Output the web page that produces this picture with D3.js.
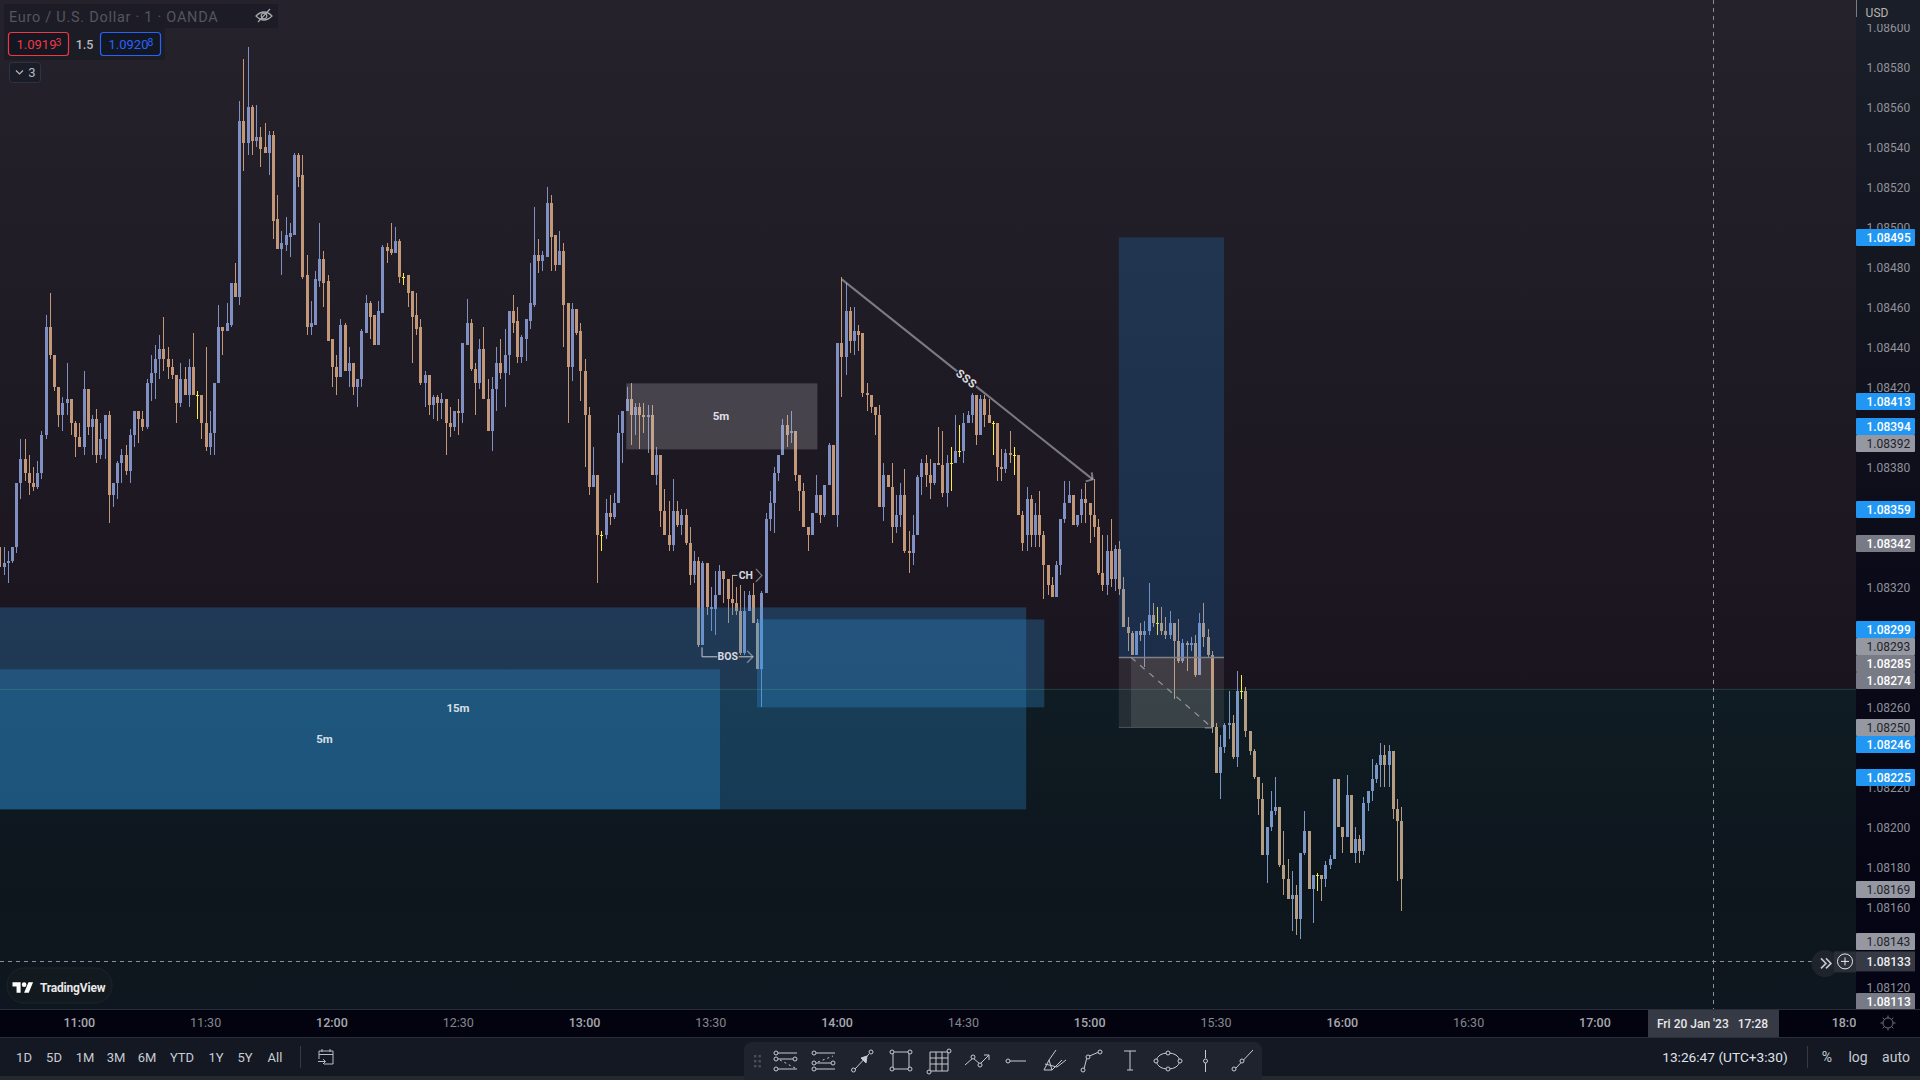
<!DOCTYPE html>
<html><head><meta charset="utf-8">
<script src="https://cdnjs.cloudflare.com/ajax/libs/d3/7.8.5/d3.min.js"></script>
<style>html,body{margin:0;padding:0;background:#000;overflow:hidden}svg{display:block}text{font-family:Roboto,"Liberation Sans",sans-serif}</style>
</head><body><svg id="c" width="1920" height="1080"></svg>
<script>
// Candle values: 5th-decimal points above 1.08000, one-minute bars from 10:41
const firstMinute = 641;
const opens = [
340,330,332,333,340,372,384,377,372,370,377,396,450,436,420,406,412,414,402,395,
390,419,400,404,386,394,406,366,372,382,386,378,396,408,404,400,422,427,434,439,
434,430,426,412,424,416,430,416,416,402,390,397,422,450,448,451,472,465,553,542,
560,543,545,540,537,546,504,489,491,495,496,536,526,476,450,451,473,484,473,444,
430,425,451,428,432,420,424,447,462,456,441,457,490,489,487,493,475,476,468,456,
450,422,426,411,415,412,414,402,400,408,407,441,452,429,422,439,414,398,419,432,
427,436,458,453,435,444,453,461,486,483,485,512,496,481,488,462,430,459,448,428,
406,370,376,346,346,357,355,362,397,408,414,406,410,406,405,406,376,386,358,346,
341,358,351,356,342,326,333,291,332,309,309,316,328,324,314,312,308,287,308,316,
302,279,317,354,362,377,386,401,397,398,376,368,350,346,357,366,356,371,391,356,
442,435,458,443,448,447,417,416,410,406,360,376,370,350,356,366,338,337,346,375,
382,376,372,382,381,367,382,382,388,388,402,406,416,396,414,406,402,402,380,379,
387,386,386,356,346,364,346,356,346,331,321,315,331,354,362,366,351,356,364,362,
356,350,327,321,338,324,339,319,300,297,286,298,296,298,306,302,302,298,296,302,
293,283,292,291,292,276,302,295,286,250,227,240,251,252,235,268,268,248,238,225,
214,186,200,208,210,181,174,164,166,154,187,198,169,176,176,174,181,184,224,200,
195,216,187,194,188,212,218,224,231,236,231,238,209,203];
const closes = [
330,332,333,340,372,384,377,372,370,377,396,450,436,420,406,412,414,402,395,390,
419,400,404,386,394,406,366,372,382,386,378,396,408,404,400,422,427,434,439,434,
430,426,412,424,416,430,416,416,402,390,397,422,450,448,452,472,465,553,542,560,
543,545,539,537,546,503,489,492,496,497,536,525,475,450,452,474,484,472,443,430,
425,451,428,432,420,424,448,462,455,441,458,490,488,487,493,475,475,467,455,449,
422,426,411,415,412,414,402,400,408,407,442,452,429,422,439,414,398,419,432,427,
436,458,452,435,445,454,462,486,483,486,512,495,481,488,461,430,459,447,428,406,
370,376,346,346,357,355,362,397,408,414,406,410,406,405,406,376,386,358,346,341,
358,351,356,342,326,333,291,332,310,310,316,328,324,314,312,308,287,308,316,302,
279,317,354,362,377,386,401,396,398,376,368,350,346,357,366,356,371,391,356,442,
435,458,443,448,446,417,416,410,406,360,376,370,350,356,366,338,337,346,375,382,
376,372,382,381,367,382,382,388,388,402,406,416,396,414,406,402,402,380,379,387,
386,386,356,342,364,346,356,346,331,321,315,331,354,362,366,351,356,364,362,356,
350,327,321,338,324,339,319,300,297,286,298,296,298,306,302,302,298,296,302,293,
283,292,291,292,276,302,295,286,250,227,240,251,252,235,268,268,248,238,225,214,
186,200,208,210,181,174,164,166,154,187,198,169,176,176,174,181,184,224,200,195,
216,187,194,188,212,218,224,231,236,231,238,209,203,174];
const highs = [
340,340,338,340,372,394,394,386,380,383,398,456,467,436,420,415,432,414,403,402,
428,419,406,409,402,406,408,372,383,389,391,399,408,408,408,424,436,441,446,455,
440,434,426,432,430,434,447,418,416,440,408,422,461,450,462,472,482,563,584,590,
561,561,550,552,548,548,516,498,505,502,537,537,536,486,463,478,502,488,476,444,
436,454,452,440,432,424,449,466,463,456,463,491,492,502,500,494,477,476,468,467,
454,428,426,416,416,417,414,410,408,414,442,464,454,432,444,450,424,425,440,444,
449,458,466,460,446,454,482,510,494,488,520,516,496,498,492,462,462,459,452,434,
410,390,376,348,364,366,367,406,408,420,422,412,412,412,411,411,390,386,369,363,
374,363,359,359,350,338,335,333,332,320,328,331,328,324,326,320,321,318,318,322,
304,318,357,368,380,386,404,406,408,398,376,372,350,357,376,366,371,392,391,442,
475,472,460,460,451,447,422,416,410,411,382,376,382,366,372,379,348,356,376,384,
386,384,382,400,398,386,390,406,401,407,408,417,416,416,416,414,403,402,389,389,
398,390,386,358,370,366,362,368,348,331,325,333,354,373,373,366,356,369,372,362,
374,354,346,346,354,341,343,325,305,298,298,302,303,322,312,310,310,305,308,302,
304,294,293,295,296,307,312,299,288,252,246,252,268,256,278,276,270,248,239,225,
222,200,218,225,210,198,184,178,171,187,208,198,176,177,176,183,186,224,224,200,
226,216,200,196,215,218,234,232,242,241,241,238,214,210];
const lows = [
330,326,322,332,337,364,373,366,368,369,374,394,434,418,400,398,406,396,385,390,
386,396,386,382,384,384,352,360,364,372,376,372,390,392,398,399,413,414,424,428,
424,424,402,410,416,410,416,404,394,388,386,386,422,436,448,450,465,461,528,536,
536,540,530,537,526,494,489,476,488,485,496,520,474,446,446,451,470,460,443,420,
416,425,428,420,416,410,420,447,444,441,441,457,482,486,487,472,471,460,432,446,
421,410,406,404,403,404,386,395,398,396,402,441,428,406,419,414,398,388,408,424,
410,426,447,432,432,433,449,460,477,478,485,478,478,481,440,402,423,446,413,380,
366,370,322,338,344,351,354,362,382,408,391,396,389,397,387,376,371,350,346,338,
338,350,346,341,321,322,290,291,306,298,296,316,312,302,306,306,286,286,308,302,
279,260,317,348,347,373,386,390,392,373,358,350,338,346,357,352,355,371,356,350,
415,426,437,436,438,415,408,407,396,360,353,370,342,347,350,337,327,331,346,366,
370,364,371,381,365,360,368,382,385,382,402,402,391,396,400,402,386,373,373,377,
382,376,356,338,338,340,340,340,314,316,315,315,326,352,362,351,350,352,352,342,
345,326,318,316,320,318,316,300,288,286,286,293,280,296,300,296,296,294,294,264,
282,282,278,288,275,276,290,285,247,227,214,237,244,234,230,264,245,236,224,206,
186,172,198,206,180,166,164,148,146,144,186,169,152,168,163,170,179,184,200,187,
195,187,182,182,186,208,213,222,220,220,220,204,173,158];

// Axis ticks
const priceTicks = [1.086,1.0858,1.0856,1.0854,1.0852,1.085,1.0848,1.0846,1.0844,1.0842,1.0838,1.0832,1.0826,1.0822,1.082,1.0818,1.0816,1.0812];
const timeTicks = [660,690,720,750,780,810,840,870,900,930,960,990,1020,1080];
const timeTickLabels = ["11:00","11:30","12:00","12:30","13:00","13:30","14:00","14:30","15:00","15:30","16:00","16:30","17:00","18:00"];
const rangeButtons = ["1D","5D","1M","3M","6M","YTD","1Y","5Y","All"];

// Price labels on the right scale
const blueLabels = [1.08495,1.08413,1.08394,1.08359,1.08299,1.08246,1.08225];
const lightLabels = [1.08392,1.08293,1.0825,1.08169,1.08143];
const darkLabels = [1.08342,1.08285,1.08274,1.08113];
const crossPrice = 1.08133, crossMinute = 1048;
const baselinePrice = 1.08269;

// Drawings
const zones = [
  {t0:622,t1:884.8,hi:1.0831,lo:1.08209},
  {t0:820.85,t1:889.1,hi:1.08304,lo:1.0826},
  {t0:622,t1:812.07,hi:1.08279,lo:1.08209}];
const greyBox = {t0:789.8,t1:835.2,hi:1.08422,lo:1.08389};
const pos = {t0:906.8,t1:931.8,top:1.08495,mid:1.08285,bot:1.0825,inner0:909.7,inner1:928.9};
const trend = {t0:841,p0:1.08474,t1:900.6,p1:1.08374};

const W=1920,H=1080,chartR=1856,chartB=1009;
const svg=d3.select('#c');
const defs=svg.append('defs');
function grad(id,stops){const g=defs.append('linearGradient').attr('id',id).attr('gradientUnits','userSpaceOnUse').attr('x1',0).attr('x2',0).attr('y1',0).attr('y2',1080);
  stops.forEach(s=>g.append('stop').attr('offset',s[0]/1080).attr('stop-color',s[1]));}
grad('bgTop',[[0,'#25222c'],[400,'#1e1a24'],[690,'#1a141e']]);
grad('bgBot',[[690,'#0c0810'],[900,'#08010a'],[1009,'#0a030c']]);
grad('axisBg',[[0,'#1a1f29'],[300,'#13151f'],[600,'#0a0a18'],[1009,'#030313']]);
defs.append('clipPath').attr('id','chartClip').append('rect').attr('width',chartR).attr('height',chartB);

const x=d3.scaleLinear().domain([660,690]).range([79.8,206.1]);
const y=d3.scaleLinear().domain([1.086,1.081]).range([27.4,1027.4]);
const pr=v=>1.08+v/1e5;
const candles=opens.map((o,i)=>({t:firstMinute+i,o:pr(o),c:pr(closes[i]),h:pr(highs[i]),l:pr(lows[i])}));
const baseY=y(baselinePrice);

// Background
svg.append('rect').attr('width',chartR).attr('height',baseY).attr('fill','url(#bgTop)');
svg.append('rect').attr('y',baseY).attr('width',chartR).attr('height',chartB-baseY).attr('fill','url(#bgBot)');

const chart=svg.append('g').attr('clip-path','url(#chartClip)');
// Candles
const up='#8090c3',down='#c29878',flat='#ffeb3b';
const col=d=>d.c>d.o?up:(d.c<d.o?down:flat);
const px=d=>Math.floor(x(d.t));
const cg=chart.append('g').attr('shape-rendering','crispEdges');
cg.selectAll('.w').data(candles).join('rect').attr('class','w').attr('x',px).attr('width',1)
  .attr('y',d=>Math.round(y(d.h))).attr('height',d=>Math.max(1,Math.round(y(d.l))-Math.round(y(d.h)))).attr('fill',col);
cg.selectAll('.b').data(candles).join('rect').attr('class','b').attr('x',d=>px(d)-1).attr('width',3)
  .attr('y',d=>Math.round(y(Math.max(d.o,d.c)))).attr('height',d=>Math.max(1,Math.round(y(Math.min(d.o,d.c)))-Math.round(y(Math.max(d.o,d.c))))).attr('fill',col);
// Tint on the lower part
chart.append('rect').attr('y',baseY).attr('width',chartR).attr('height',chartB-baseY).attr('fill','rgb(60,210,205)').attr('opacity',.1);

// Blue zones
chart.selectAll('.z').data(zones).join('rect').attr('class','z').attr('x',d=>Math.max(0,x(d.t0))).attr('width',d=>x(d.t1)-Math.max(0,x(d.t0)))
  .attr('y',d=>y(d.hi)).attr('height',d=>y(d.lo)-y(d.hi)).attr('fill','rgb(45,150,225)').attr('opacity',.28);
chart.append('rect').attr('x',x(greyBox.t0)).attr('width',x(greyBox.t1)-x(greyBox.t0)).attr('y',y(greyBox.hi)).attr('height',y(greyBox.lo)-y(greyBox.hi)).attr('fill','rgb(200,200,205)').attr('opacity',.24);
// Position tool
chart.append('rect').attr('x',x(pos.t0)).attr('width',x(pos.t1)-x(pos.t0)).attr('y',y(pos.top)).attr('height',y(pos.mid)-y(pos.top)).attr('fill','rgb(33,150,243)').attr('opacity',.2);
chart.append('rect').attr('x',x(pos.t0)).attr('width',x(pos.t1)-x(pos.t0)).attr('y',y(pos.mid)).attr('height',y(pos.bot)-y(pos.mid)).attr('fill','rgb(180,180,180)').attr('opacity',.13);
chart.append('rect').attr('x',x(pos.inner0)).attr('width',x(pos.inner1)-x(pos.inner0)).attr('y',y(pos.mid)).attr('height',y(pos.bot)-y(pos.mid)).attr('fill','rgb(180,180,180)').attr('opacity',.15);
chart.append('line').attr('x1',x(pos.t0)).attr('x2',x(pos.t1)).attr('y1',y(pos.mid)).attr('y2',y(pos.mid)).attr('stroke','rgb(130,128,135)').attr('stroke-width',1.5);
chart.append('line').attr('x1',x(pos.inner0)).attr('x2',x(pos.inner1)).attr('y1',y(pos.mid)).attr('y2',y(pos.bot)).attr('stroke','rgb(150,150,155)').attr('stroke-width',1.2).attr('stroke-dasharray','6 6');
chart.append('line').attr('x1',x(pos.t0)).attr('x2',x(pos.inner1)).attr('y1',y(pos.bot)).attr('y2',y(pos.bot)).attr('stroke','rgb(80,84,88)').attr('stroke-width',1);

// Baseline
chart.append('line').attr('x1',0).attr('x2',chartR).attr('y1',baseY).attr('y2',baseY).attr('stroke','rgba(110,180,165,.26)');

// Trend line with gap for its label
const grey='rgba(200,200,205,.55)';
function seg(p,w,c,dash){const l=chart.append('path').attr('d',d3.line()(p)).attr('fill','none').attr('stroke',c||grey).attr('stroke-width',w||1.3);if(dash)l.attr('stroke-dasharray',dash);return l;}
const ta=[x(trend.t0),y(trend.p0)],tb=[x(trend.t1),y(trend.p1)];
const along=f=>[ta[0]+(tb[0]-ta[0])*f,ta[1]+(tb[1]-ta[1])*f];
seg([ta,along(.46)],2);seg([along(.535),tb],2);
seg([[tb[0]-1,tb[1]-7],tb,[tb[0]-7,tb[1]+2]],2);
const ang=Math.atan2(tb[1]-ta[1],tb[0]-ta[0])*180/Math.PI,mid=along(.497);
function lab(s,xx,yy,size,weight,fill,anchor){return svg.append('text').attr('x',xx).attr('y',yy).attr('font-size',size).attr('font-weight',weight||400).attr('fill',fill).attr('text-anchor',anchor||'middle').attr('dominant-baseline','central').text(s);}
lab('SSS',mid[0],mid[1],11.5,700,'#dcdcdf').attr('letter-spacing',.6).attr('transform',`rotate(${ang} ${mid[0]} ${mid[1]})`);
// dashed end arrow of position
seg([[x(pos.inner1)-7,y(pos.bot)+.5],[x(pos.inner1),y(pos.bot)+.5],[x(pos.inner1),y(pos.bot)-6]],1.3,'rgba(170,170,175,.7)');
// BOS / CH
const bosP=1.082853,chP=1.08326;
seg([[x(807.8),y(1.0829)],[x(807.8),y(bosP)],[x(811.4),y(bosP)]],1,'#c8c8cc');
seg([[x(816.5),y(bosP)],[x(819.9),y(bosP)]],1,'#c8c8cc');
seg([[x(818.5),y(bosP)-6],[x(819.9),y(bosP)],[x(818.5),y(bosP)+6]],1.4,grey);
seg([[x(815),y(chP)],[x(816.2),y(chP)]],1,'#c8c8cc');
seg([[x(820.6),y(chP)-6.5],[x(822),y(chP)],[x(820.6),y(chP)+6.5]],1.4,grey);
lab('BOS',x(813.9),y(bosP),10.5,700,'#d8d8dc');
lab('CH',x(818.2),y(chP),10.5,700,'#d8d8dc');
lab('5m',721,415.7,11.5,700,'#dfdfe3');
lab('15m',458,708,11.5,700,'#d8e0e6');
lab('5m',324.5,739,11.5,700,'#d8e0e6');

// Crosshair
const crossC='#8e9098';
svg.append('line').attr('x1',x(crossMinute)).attr('x2',x(crossMinute)).attr('y1',0).attr('y2',chartB).attr('stroke',crossC).attr('stroke-dasharray','4 4').attr('shape-rendering','crispEdges');
svg.append('line').attr('x1',0).attr('x2',1812).attr('y1',y(crossPrice)).attr('y2',y(crossPrice)).attr('stroke',crossC).attr('stroke-dasharray','4 4').attr('shape-rendering','crispEdges');

// Header
svg.append('rect').attr('x',4).attr('y',4).attr('width',274).attr('height',24).attr('fill','rgba(20,22,30,.45)');
svg.append('rect').attr('x',4).attr('y',28).attr('width',161).attr('height',32).attr('fill','rgba(20,22,30,.45)');
svg.append('text').attr('x',9).attr('y',17).attr('font-size',14.5).attr('fill','#55555e').attr('dominant-baseline','central').attr('letter-spacing',.72).text('Euro / U.S. Dollar · 1 · OANDA');
const eye=svg.append('g').attr('transform','translate(264,16)').attr('fill','none').attr('stroke','#a6a8ad').attr('stroke-width',1.2);
eye.append('path').attr('d','M-8,0 Q0,-8 8,0 Q0,8 -8,0Z');eye.append('circle').attr('r',2.8);eye.append('path').attr('d','M-6,6 L6,-7');
function quote(xx,c,main,sup){svg.append('rect').attr('x',xx+.5).attr('y',32.5).attr('width',60).attr('height',23).attr('rx',3).attr('fill','#131722').attr('stroke',c).attr('stroke-width',1.2);
  svg.append('text').attr('x',xx+8.5).attr('y',44.5).attr('font-size',13).attr('fill',c).attr('dominant-baseline','central').text(main);
  svg.append('text').attr('x',xx+47.5).attr('y',42).attr('font-size',10.5).attr('fill',c).attr('dominant-baseline','central').text(sup);}
quote(8,'#f23645','1.0919','3');quote(100,'#2962ff','1.0920','8');
lab('1.5',84.5,44.5,12.5,500,'#b8bac0');
svg.append('rect').attr('x',9.5).attr('y',62.5).attr('width',31).attr('height',20).attr('rx',3).attr('fill','#1a1d27').attr('stroke','#30333e');
svg.append('path').attr('d','M16,70.5 L19.5,74 L23,70.5').attr('fill','none').attr('stroke','#b4b6bc').attr('stroke-width',1.2);
lab('3',32,72.5,13,400,'#b4b6bc');

// TradingView badge
svg.append('rect').attr('x',7).attr('y',968).attr('width',105).attr('height',35).attr('rx',17).attr('fill','#12191f').attr('stroke','#1d252b');
const logo=svg.append('g').attr('transform','translate(12.5,980) scale(.58)').attr('fill','#fff');
logo.append('path').attr('d','M14 22H7V11H0V4h14v18zM28 22h-8l7.5-18h8L28 22z');logo.append('circle').attr('cx',20).attr('cy',8).attr('r',4);
svg.append('text').attr('x',40).attr('y',987.5).attr('font-size',12).attr('font-weight',700).attr('fill','#e8e8ea').attr('dominant-baseline','central').attr('letter-spacing',-.2).text('TradingView');

// Price axis
svg.append('rect').attr('x',chartR).attr('width',W-chartR).attr('height',chartB).attr('fill','url(#axisBg)');
const axY=svg.append('g').attr('transform',`translate(${chartR},0)`).call(d3.axisRight(y).tickValues(priceTicks).tickSize(0).tickPadding(10.5).tickFormat(d3.format('.5f')));
axY.select('.domain').remove();
axY.selectAll('text').attr('font-size',12).attr('font-family','Roboto').attr('fill','#8f9199').attr('dy','.33em');
svg.append('rect').attr('x',chartR).attr('width',W-chartR).attr('height',24).attr('fill','#191e28');
svg.append('line').attr('x1',chartR+.5).attr('x2',chartR+.5).attr('y1',0).attr('y2',17).attr('stroke','#7a7c84');
lab('USD',1877,12.5,12,400,'#b8b4ae');

// Price labels
const labelH=17;
const labelNudge=new Map([[1.08394,-13.2]]);
const allLabels=[...blueLabels.map(v=>({v,bg:'#2196f3',fg:'#fff',w:500})),...lightLabels.map(v=>({v,bg:'#9598a1',fg:'#20222a',w:400})),...darkLabels.map(v=>({v,bg:'#787b86',fg:'#fff',w:500}))]
  .map(d=>({...d,cy:y(d.v)+(labelNudge.get(d.v)||0)})).sort((a,b)=>a.cy-b.cy);
allLabels.forEach((d,i)=>{if(i&&d.cy<allLabels[i-1].cy+labelH)d.cy=allLabels[i-1].cy+labelH;});
const lg=svg.append('g');
allLabels.forEach(d=>{
  lg.append('rect').attr('x',chartR).attr('y',Math.round(d.cy-labelH/2)).attr('width',59).attr('height',labelH).attr('rx',1).attr('fill',d.bg);
  lg.append('text').attr('x',1866.5).attr('y',d.cy+.5).attr('font-size',12).attr('font-weight',d.w).attr('fill',d.fg).attr('dominant-baseline','central').text(d3.format('.5f')(d.v));
});
lg.append('rect').attr('x',chartR).attr('y',y(crossPrice)-10).attr('width',59).attr('height',20).attr('fill','#363a45');
lg.append('text').attr('x',1866.5).attr('y',y(crossPrice)+.5).attr('font-size',12).attr('font-weight',500).attr('fill','#f0f0f2').attr('dominant-baseline','central').text(d3.format('.5f')(crossPrice));

// Crosshair buttons
const cy0=y(crossPrice)+1;
svg.append('circle').attr('cx',1825).attr('cy',cy0+1).attr('r',13.5).attr('fill','#1f242c');
svg.append('path').attr('d',`M1821,${cy0-4} l5,5 l-5,5 M1826,${cy0-4} l5,5 l-5,5`).attr('fill','none').attr('stroke','#c4c6cc').attr('stroke-width',1.6);
svg.append('rect').attr('x',1834).attr('y',cy0-11).attr('width',22).attr('height',21).attr('fill','#2a2e38');
svg.append('circle').attr('cx',1845).attr('cy',cy0-1).attr('r',7.5).attr('fill','none').attr('stroke','#e8e8ea');
svg.append('path').attr('d',`M1841,${cy0-1} h8 M1845,${cy0-5} v8`).attr('stroke','#e8e8ea');

// Time axis
svg.append('rect').attr('y',chartB).attr('width',W).attr('height',1038-chartB).attr('fill','#03030f');
const axX=svg.append('g').attr('transform','translate(-1,1023)').call(d3.axisBottom(x).tickValues(timeTicks).tickSize(0).tickPadding(0).tickFormat((d,i)=>timeTickLabels[i]));
axX.select('.domain').remove();
axX.selectAll('text').attr('font-size',12.5).attr('font-family','Roboto').attr('dy','.33em').attr('fill','#84868e').each(function(d){if(d%60===0)d3.select(this).attr('font-weight',500).attr('fill','#a6a8ae');});
svg.append('rect').attr('x',chartR).attr('y',chartB).attr('width',W-chartR).attr('height',1038-chartB).attr('fill','#03030f');
svg.append('rect').attr('y',chartB).attr('width',W).attr('height',1).attr('fill','#2a2e39');
svg.append('rect').attr('x',1648).attr('y',1010).attr('width',131).attr('height',27).attr('fill','#363a45');
svg.append('text').attr('x',1712.5).attr('y',1023.5).attr('font-size',12).attr('font-weight',500).attr('fill','#e8e8ea').attr('text-anchor','middle').attr('dominant-baseline','central').attr('xml:space','preserve').text("Fri 20 Jan '23   17:28");
const gear=svg.append('g').attr('transform','translate(1888,1023)').attr('fill','none').attr('stroke','#6d6f77');
gear.append('circle').attr('r',5);d3.range(8).forEach(i=>{const a=i*Math.PI/4;gear.append('line').attr('x1',5*Math.cos(a)).attr('y1',5*Math.sin(a)).attr('x2',7.5*Math.cos(a)).attr('y2',7.5*Math.sin(a));});

// Bottom bar
svg.append('rect').attr('y',1038).attr('width',W).attr('height',38).attr('fill','#141823');
svg.append('rect').attr('y',1037).attr('width',W).attr('height',1).attr('fill','#2a2e39');
svg.append('rect').attr('y',1076).attr('width',W).attr('height',4).attr('fill','#262830');
const btnX=[24,54,85,116,147,182,216,245,275];
rangeButtons.forEach((b,i)=>lab(b,btnX[i],1057,13,400,'#c6ccd4'));
svg.append('line').attr('x1',300.5).attr('x2',300.5).attr('y1',1046).attr('y2',1068).attr('stroke','#363a45');
const cal=svg.append('g').attr('transform','translate(326,1057)').attr('fill','none').attr('stroke','#b8bcc4').attr('stroke-width',1);
cal.append('path').attr('d','M-7,2 V-6 H7 V7 H-2 M-7,-2.5 H7 M-4,-8 V-5 M4,-8 V-5 M-8,4.5 H-1 M-3,2 L-0.5,4.5 L-3,7');
lab('13:26:47 (UTC+3:30)',1725,1057,13.7,400,'#dfe2e8');
svg.append('line').attr('x1',1807.5).attr('x2',1807.5).attr('y1',1046).attr('y2',1068).attr('stroke','#363a45');
lab('%',1827,1057,14,400,'#c6ccd4');lab('log',1858,1057,14,400,'#c6ccd4');lab('auto',1896,1057,14,400,'#c6ccd4');

// Drawing toolbar
svg.append('path').attr('d','M744,1080 V1050 a8,8 0 0 1 8,-8 H1254 a8,8 0 0 1 8,8 V1080Z').attr('fill','#1f232e');
[[755,1056],[759.5,1056],[755,1061],[759.5,1061],[755,1066],[759.5,1066]].forEach(p=>svg.append('rect').attr('x',p[0]-1).attr('y',p[1]-1).attr('width',2.4).attr('height',2.4).attr('fill','#4a4e5a'));
const toolX=[786,824,863,901,939,977,1016,1054,1092,1130,1168,1205.5,1243];
const tools=[
 {l:['M-8,-8 H11','M-8,-2 H7','M-8,8 H11'],d:['M-6,-1 L9,7'],c:[[-10,-8],[-10,-2],[9,-2],[-10,8]]},
 {l:['M-8,-8 H11','M-8,8 H11','M-8,2 H7'],d:['M-6,1 L9,-5'],c:[[-10,-8],[-10,8],[-10,2],[9,2]]},
 {l:['M-8,8 L6,-7'],c:[[-9.5,9],[8,-9]],f:'M4,-5 L-2,-3 L3,2Z'},
 {l:['M-8,-9 H8 V8 H-8 Z'],c:[[-9,-9],[9,-9],[-9,8],[9,8]]},
 {l:['M-9,-9 H9 V10 H-9 Z','M-3,-9 V10','M3,-9 V10','M-9,-3 H9','M-9,3 H9'],c:[[-10,11],[10,-10]]},
 {l:['M-12,4 L-4,-3 L3,3 L12,-6 M7,-6 H12 V-1'],c:[[-4,-4],[3,4]]},
 {l:['M-6,0 H10'],c:[[-8,0]]},
 {l:['M2,-11 L-5,-1 L-10,9 L-2,9 L-5,-1 M-2,9 L8,-1 M-9,3 L3,6 L12,-1'],c:[]},
 {l:['M-8,8 L-5,-4 L7,-9'],c:[[-9,9],[-4,-4],[8,-9]]},
 {l:['M-6,-10 H6 M0,-10 V9 M-3,9 H3'],c:[]},
 {l:['M-12,0 Q-10,-8 0,-8 Q10,-8 12,0 Q10,8 0,8 Q-10,8 -12,0Z'],c:[[0,-8],[12,0],[0,8],[-12,0]]},
 {l:['M0,-11 V-3 M0,2 V11'],c:[[0,0]]},
 {l:['M-8,8 L10,-11'],c:[[-9,8],[-1,0]]}];
tools.forEach((t,i)=>{
  const g=svg.append('g').attr('transform',`translate(${toolX[i]},1061)`).attr('fill','none').attr('stroke','#c8cad0').attr('stroke-width',1);
  t.l.forEach(d=>g.append('path').attr('d',d));
  (t.d||[]).forEach(d=>g.append('path').attr('d',d).attr('stroke-dasharray','2 3'));
  if(t.f)g.append('path').attr('d',t.f).attr('fill','#c8cad0');
  t.c.forEach(c=>g.append('circle').attr('cx',c[0]).attr('cy',c[1]).attr('r',2).attr('fill','#1f232e'));
});
</script></body></html>
